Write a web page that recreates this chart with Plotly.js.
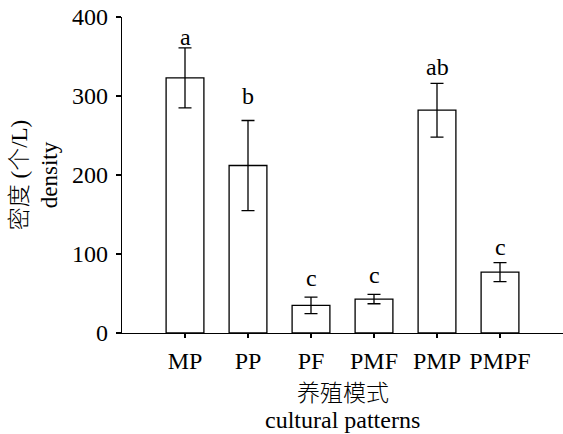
<!DOCTYPE html>
<html>
<head>
<meta charset="utf-8">
<script src="https://cdn.plot.ly/plotly-3.0.1.min.js"></script>
<style>html,body{margin:0;padding:0;background:#fff;}#chart{width:563px;height:434px;}</style>
</head>
<body>
<div id="chart"></div>
<script>
const categories = ["MP", "PP", "PF", "PMF", "PMP", "PMPF"];
const densityValues = [323, 212, 35, 43, 282, 77];
const errorValues = [38, 57, 10.5, 6, 34, 12];
const letters = ["a", "b", "c", "c", "ab", "c"];
const yTicks = [0, 100, 200, 300, 400];
const xTitleZh = "养殖模式";
const xTitleEn = "cultural patterns";
const yTitleZh = "密度";
const yTitleUnitZh = "个";
const yTitleEn = "density";

const serif = "Liberation Serif, Times New Roman, serif";
const cjkSpan = s => "<span style=\"font-family:'Noto Sans CJK SC';font-weight:300\">" + s + "</span>";

const trace = {
  type: "bar",
  x: categories.map((c, i) => i),
  y: densityValues,
  width: 0.6,
  marker: {color: "#ffffff", line: {color: "#000000", width: 1.3}},
  error_y: {type: "data", array: errorValues, visible: true, color: "#000000", thickness: 1.3, width: 6.5},
  hoverinfo: "skip"
};

const letterShifts = [-4, 9, 4, 4, 1, 1];
const annotations = categories.map((c, i) => ({
  x: i,
  y: densityValues[i] + errorValues[i],
  xref: "x", yref: "y",
  text: letters[i],
  showarrow: false,
  yanchor: "bottom",
  yshift: letterShifts[i],
  font: {family: serif, size: 24, color: "#000"}
}));
annotations.push({
  x: 0.5, y: 0, xref: "paper", yref: "paper",
  text: cjkSpan(xTitleZh), showarrow: false,
  yanchor: "middle", xanchor: "center", yshift: -58,
  font: {family: serif, size: 23, color: "#000"}
});
annotations.push({
  x: 0.5, y: 0, xref: "paper", yref: "paper",
  text: xTitleEn, showarrow: false,
  yanchor: "middle", xanchor: "center", yshift: -87,
  font: {family: serif, size: 24, color: "#000"}
});

const layout = {
  width: 563, height: 434,
  margin: {l: 122, r: 0, t: 17, b: 101},
  paper_bgcolor: "#fff", plot_bgcolor: "#fff",
  showlegend: false,
  xaxis: {
    range: [-1, 6],
    tickmode: "array",
    tickvals: categories.map((c, i) => i),
    ticktext: categories,
    showline: true, linecolor: "#000", linewidth: 1.3,
    ticks: "outside", ticklen: 4, tickwidth: 1.3, tickcolor: "#000",
    ticklabelstandoff: 2,
    showgrid: false, zeroline: false,
    tickfont: {family: serif, size: 24, color: "#000"}
  },
  yaxis: {
    range: [0, 400],
    tickmode: "array",
    tickvals: yTicks,
    showline: true, linecolor: "#000", linewidth: 1.3,
    ticks: "outside", ticklen: 5, tickwidth: 1.3, tickcolor: "#000",
    ticklabelstandoff: 3,
    showgrid: false, zeroline: false,
    tickfont: {family: serif, size: 24, color: "#000"},
    title: {text: cjkSpan(yTitleZh) + " (" + cjkSpan(yTitleUnitZh) + "/L)<br>" + yTitleEn,
            font: {family: serif, size: 23, color: "#000"}, standoff: 9}
  },
  annotations: annotations
};

Plotly.newPlot("chart", [trace], layout, {staticPlot: true, displayModeBar: false});
</script>
</body>
</html>
